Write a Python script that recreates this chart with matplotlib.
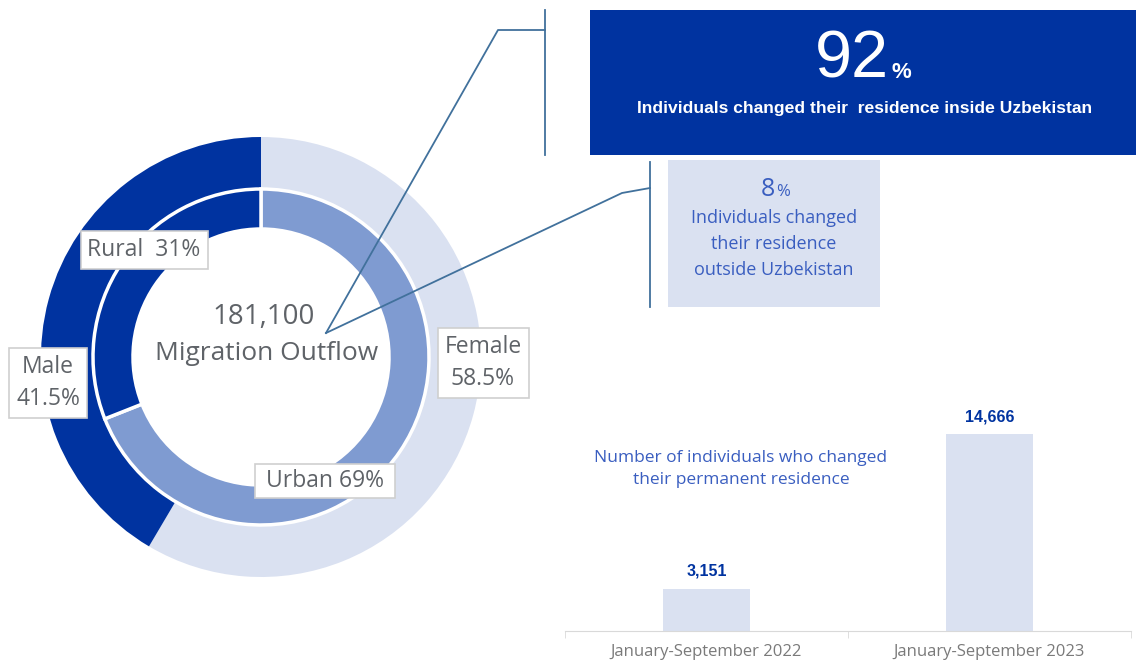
import matplotlib
matplotlib.use("Agg")
import matplotlib.pyplot as plt
from matplotlib.patches import Rectangle

# --- data ---
total_outflow = 181100
gender_labels = ["Female", "Male"]
gender_share = [58.5, 41.5]
area_labels = ["Urban", "Rural"]
area_share = [69, 31]
share_inside = 92
share_outside = 8
periods = ["January-September 2022", "January-September 2023"]
changed_residence = [3151, 14666]

DARK = "#0033A0"
MID = "#7F9BD1"
LIGHT = "#DAE1F1"
TEXT_BLUE = "#3A5EC0"
GREY = "#5F6368"
LINE = "#41719C"
W, H = 1136, 661

plt.rcParams["font.family"] = ["Open Sans", "DejaVu Sans"]
fig = plt.figure(figsize=(W / 100, H / 100), dpi=100)

# --- donut ---
cx, cy, R = 261, 357, 220
half = 250
ax_d = fig.add_axes([(cx - half) / W, (H - cy - half) / H, 2 * half / W, 2 * half / H])
ax_d.pie(gender_share, colors=[LIGHT, DARK], startangle=90, counterclock=False,
         radius=R, wedgeprops=dict(width=R - 168, linewidth=0))
ax_d.pie(area_share, colors=[MID, DARK], startangle=90, counterclock=False,
         radius=168, wedgeprops=dict(width=168 - 128, edgecolor="white", linewidth=2.5))
ax_d.set_xlim(-half, half); ax_d.set_ylim(-half, half); ax_d.axis("off")

# --- bar chart ---
ax_b = fig.add_axes([565 / W, (H - 631) / H, 566 / W, 231 / H])
ax_b.bar(range(len(periods)), changed_residence, width=0.31, color=LIGHT)
for i, v in enumerate(changed_residence):
    ax_b.annotate(f"{v:,}", (i, v), xytext=(0, 7), textcoords="offset points",
                  ha="center", va="bottom", fontsize=11.5, fontweight="bold",
                  color=DARK, family=["Liberation Sans", "DejaVu Sans"])
ax_b.set_xlim(-0.5, len(periods) - 0.5); ax_b.set_ylim(0, 17200)
ax_b.set_xticks(range(len(periods)), periods, fontsize=12, color="#7A7A7A")
ax_b.set_xticks([-0.5, 0.5, 1.5], minor=True)
ax_b.tick_params(axis="x", which="major", length=0, pad=9)
ax_b.tick_params(axis="x", which="minor", length=5, color="#D9D9D9")
ax_b.set_yticks([])
for s in ["top", "left", "right"]:
    ax_b.spines[s].set_visible(False)
ax_b.spines["bottom"].set_color("#D9D9D9")
ax_b.patch.set_alpha(0)

# --- overlay in pixel coordinates (top-left origin) ---
ov = fig.add_axes([0, 0, 1, 1])
ov.set_xlim(0, W); ov.set_ylim(H, 0); ov.axis("off"); ov.patch.set_alpha(0)

# connectors
ov.plot([326, 498, 545], [333, 30, 30], color=LINE, lw=1.3)
ov.plot([545, 545], [10, 155], color=LINE, lw=1.3)
ov.plot([326, 622, 650], [333, 193, 188], color=LINE, lw=1.3)
ov.plot([650, 650], [162, 307], color=LINE, lw=1.3)

# center text
ov.text(264, 317, f"{total_outflow:,}", ha="center", va="center", fontsize=20, color=GREY)
ov.text(267, 354, "Migration Outflow", ha="center", va="center", fontsize=19, color=GREY)

# ring labels
box = dict(boxstyle="square,pad=0.3", fc="white", ec="#CFCFCF", lw=1.2)
ov.text(144, 250, f"{area_labels[1]}  {area_share[1]}%", ha="center", va="center",
        fontsize=16.5, color=GREY, bbox=box)
ov.text(325, 481, f" {area_labels[0]} {area_share[0]}% ", ha="center", va="center",
        fontsize=16.5, color=GREY, bbox=dict(boxstyle="square,pad=0.2", fc="white",
                                              ec="#CFCFCF", lw=1.2))
ov.text(48, 383, f"{gender_labels[1]}\n{gender_share[1]}%", ha="center", va="center",
        fontsize=16.5, color=GREY, linespacing=1.45, bbox=box)
ov.text(483, 363, f"{gender_labels[0]}\n{gender_share[0]}%", ha="center", va="center",
        fontsize=16.5, color=GREY, linespacing=1.45, bbox=box)

# inside box
ov.add_patch(Rectangle((590, 10), 546, 145, color=DARK, lw=0))
arial = ["Liberation Sans", "DejaVu Sans"]
ov.text(889, 78, f"{share_inside}", ha="right", va="baseline", fontsize=48,
        color="white", family=arial)
ov.text(892, 78, "%", ha="left", va="baseline", fontsize=16, fontweight="bold",
        color="white", family=arial)
ov.text(865, 108, "Individuals changed their  residence inside Uzbekistan", ha="center",
        va="center", fontsize=12.6, fontweight="bold", color="white", family=arial)

# outside box
ov.add_patch(Rectangle((668, 160), 212, 147, color=LIGHT, lw=0))
ov.text(775, 196, f"{share_outside}", ha="right", va="baseline", fontsize=18, color=TEXT_BLUE)
ov.text(776, 196, "%", ha="left", va="baseline", fontsize=12, color=TEXT_BLUE)
ov.text(774, 244, "Individuals changed\ntheir residence\noutside Uzbekistan", ha="center",
        va="center", fontsize=13, color=TEXT_BLUE, linespacing=1.6)

# bar chart caption
ov.text(741, 469, "Number of individuals who changed\ntheir permanent residence",
        ha="center", va="center", fontsize=12.5, color=TEXT_BLUE, linespacing=1.55)

fig.savefig("out.png", dpi=100)
